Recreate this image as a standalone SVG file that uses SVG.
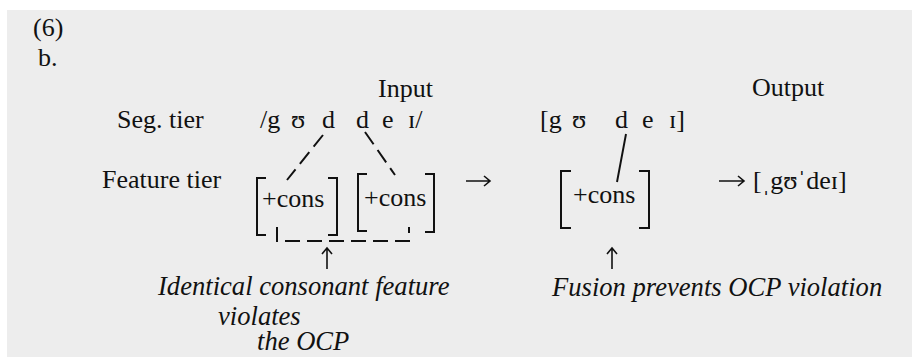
<svg xmlns="http://www.w3.org/2000/svg" width="913" height="357" viewBox="0 0 913 357">
<style>
text{font-family:"Liberation Serif","Times New Roman",serif;font-size:26px;fill:#111;}
.it{font-style:italic;font-size:26.6px;}
.br{fill:none;stroke:#111;stroke-width:2;}
.dash{fill:none;stroke:#111;stroke-width:2;stroke-dasharray:15 7;}
.solid{fill:none;stroke:#111;stroke-width:2;}
.arr{fill:none;stroke:#111;stroke-width:1.6;}
</style>
<rect x="0" y="0" width="913" height="357" fill="#ffffff"/>
<rect x="7" y="10" width="905" height="347" fill="#ededed"/>
<g id="header">
<text x="33" y="36">(6)</text>
<text x="38" y="66">b.</text>
<text x="378" y="97">Input</text>
<text x="752" y="96">Output</text>
<text x="117" y="128">Seg. tier</text>
<text x="102" y="188">Feature tier</text>
</g>
<g id="input-seg">
<text y="128"><tspan x="260">/g</tspan><tspan x="291">ʊ</tspan><tspan x="322">d</tspan><tspan x="356">d</tspan><tspan x="382">e</tspan><tspan x="408">ɪ/</tspan></text>
</g>
<g id="input-feat1">
<path class="br" d="M266,178 H257 V235 H266"/>
<path class="br" d="M328,178 H337 V235 H328"/>
<text x="262" y="207">+cons</text>
</g>
<g id="input-feat2">
<path class="br" d="M367,174 H358 V231 H367"/>
<path class="br" d="M425,174 H434 V232 H425"/>
<text x="364" y="206">+cons</text>
</g>
<g id="output-seg">
<text y="128"><tspan x="540">[g</tspan><tspan x="572">ʊ</tspan><tspan x="615">d</tspan><tspan x="642">e</tspan><tspan x="669">ɪ]</tspan></text>
</g>
<g id="output-feat">
<path class="br" d="M571,171 H561 V228 H571"/>
<path class="br" d="M639,171 H649 V228 H639"/>
<text x="573" y="203">+cons</text>
</g>
<g id="result">
<path class="arr" d="M719,181 H744 M738,176 L744,181 L738,186"/>
<text x="753" y="189">[ˌgʊˈdeɪ]</text>
</g>
<g id="notes">
<text class="it" x="158" y="295">Identical consonant feature</text>
<text class="it" x="218" y="325">violates</text>
<text class="it" x="257" y="350">the OCP</text>
<text class="it" x="552" y="296">Fusion prevents OCP violation</text>
</g>
<g id="connectors">
<line class="dash" x1="323" y1="135" x2="287" y2="180"/>
<line class="dash" x1="365" y1="132" x2="395" y2="175"/>
<path class="dash" d="M277,227 V241 H409 V227"/>
<line class="solid" x1="626" y1="134" x2="617" y2="182"/>
<path class="arr" d="M466,181 H490 M484,176 L490,181 L484,186"/>
<path class="arr" d="M327,269 V248 M322,254 L327,248 L332,254"/>
<path class="arr" d="M612,269 V248 M607,254 L612,248 L617,254"/>
</g>
</svg>
